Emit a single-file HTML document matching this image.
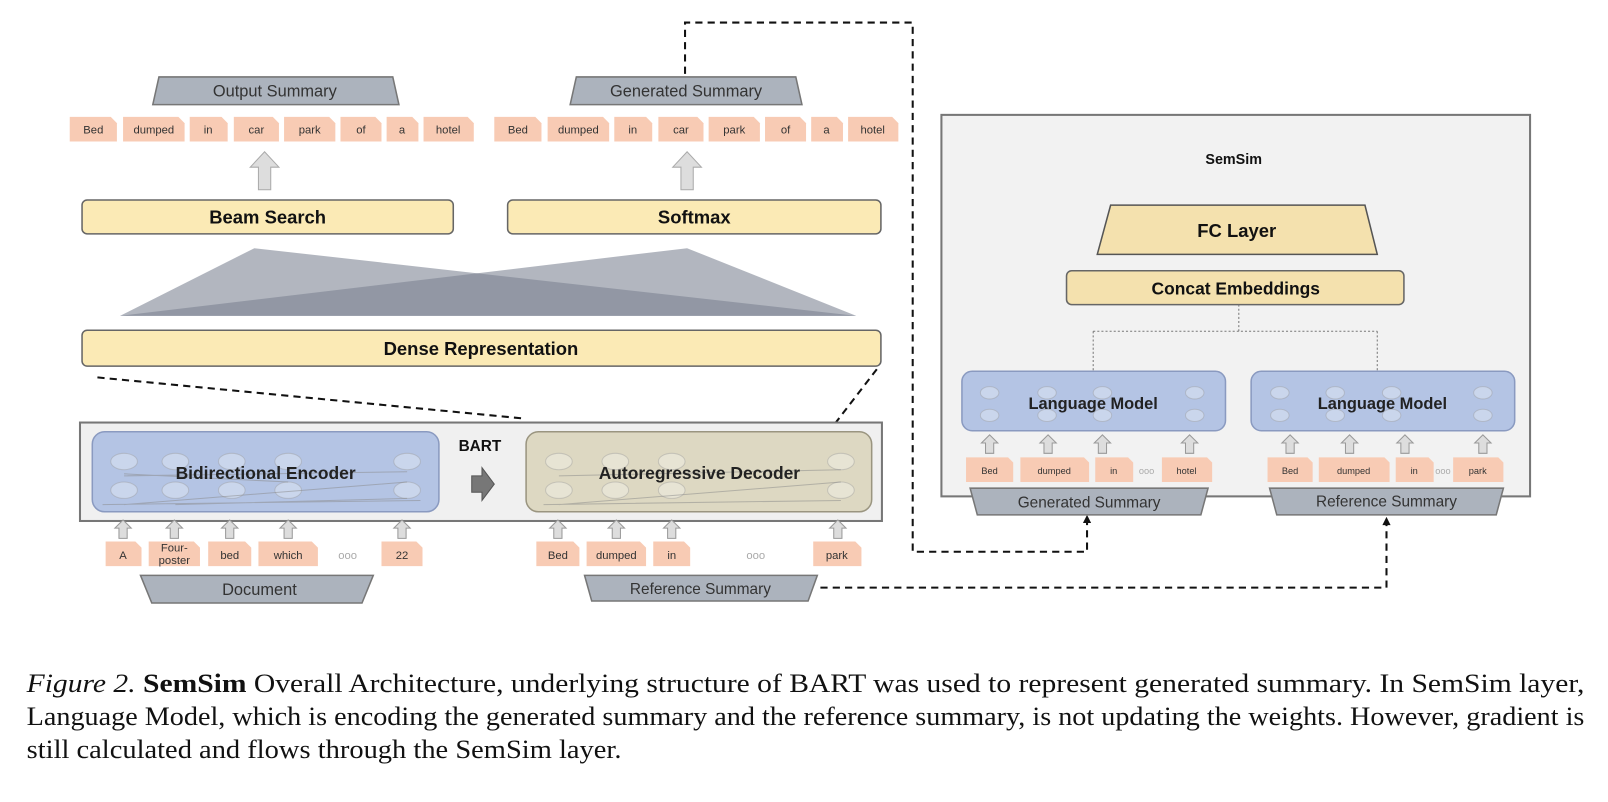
<!DOCTYPE html>
<html><head><meta charset="utf-8"><style>
html,body{margin:0;padding:0;background:#fff;}
svg{display:block;}
.t{font-family:"Liberation Sans",sans-serif;}
</style></head><body>
<svg width="1608" height="802" viewBox="0 0 1568 782" xmlns="http://www.w3.org/2000/svg">
<defs>
<g id="uparr"><path d="M-4,0 L-4,-10 L-8,-10 L0,-18 L8,-10 L4,-10 L4,0 Z" fill="#ddd" stroke="#999" stroke-width="1"/></g>
</defs>

<g fill="none" stroke="#111" stroke-width="2" stroke-dasharray="7,5">
<path d="M668,72 L668,22 L890,22 L890,538 L1060,538 L1060,508"/>
<path d="M800,573 L1352,573 L1352,510"/>
<path d="M95,368 L510,408"/>
<path d="M855,360 L815,412"/>
</g>
<path d="M1056,510 L1060,502 L1064,510 Z" fill="#111"/>
<path d="M1348,512 L1352,504 L1356,512 Z" fill="#111"/>

<path d="M155,75 L383,75 L389,102 L149,102 Z" fill="#acb3bd" stroke="#777" stroke-width="1.5"/>
<text x="268" y="94" class="t" font-size="16" text-anchor="middle" fill="#333">Output Summary</text>
<path d="M562,75 L776,75 L782,102 L556,102 Z" fill="#acb3bd" stroke="#777" stroke-width="1.5"/>
<text x="669" y="94" class="t" font-size="16" text-anchor="middle" fill="#333">Generated Summary</text>

<g fill="#f8cbb4">
<g id="toks">
<path d="M68,114 L108,114 L114,120 L114,138 L68,138 Z"/>
<path d="M120,114 L174,114 L180,120 L180,138 L120,138 Z"/>
<path d="M185,114 L216,114 L222,120 L222,138 L185,138 Z"/>
<path d="M228,114 L266,114 L272,120 L272,138 L228,138 Z"/>
<path d="M277,114 L321,114 L327,120 L327,138 L277,138 Z"/>
<path d="M332,114 L366,114 L372,120 L372,138 L332,138 Z"/>
<path d="M377,114 L402,114 L408,120 L408,138 L377,138 Z"/>
<path d="M413,114 L456,114 L462,120 L462,138 L413,138 Z"/>
</g>
<use href="#toks" transform="translate(414,0)"/>
</g>
<g class="t" font-size="11" fill="#333" text-anchor="middle">
<text x="91" y="130">Bed</text><text x="150" y="130">dumped</text><text x="203" y="130">in</text><text x="250" y="130">car</text><text x="302" y="130">park</text><text x="352" y="130">of</text><text x="392" y="130">a</text><text x="437" y="130">hotel</text>
<text x="505" y="130">Bed</text><text x="564" y="130">dumped</text><text x="617" y="130">in</text><text x="664" y="130">car</text><text x="716" y="130">park</text><text x="766" y="130">of</text><text x="806" y="130">a</text><text x="851" y="130">hotel</text>
</g>
<path d="M252,185 L252,163 L244,163 L258,148 L272,163 L264,163 L264,185 Z" fill="#ddd" stroke="#aaa"/>
<path d="M664,185 L664,163 L656,163 L670,148 L684,163 L676,163 L676,185 Z" fill="#ddd" stroke="#aaa"/>

<rect x="80" y="195" width="362" height="33" rx="5" fill="#fbeab5" stroke="#666" stroke-width="1.5"/>
<text x="261" y="218" class="t" font-size="18" font-weight="bold" text-anchor="middle" fill="#111">Beam Search</text>
<rect x="495" y="195" width="364" height="33" rx="5" fill="#fbeab5" stroke="#666" stroke-width="1.5"/>
<text x="677" y="218" class="t" font-size="18" font-weight="bold" text-anchor="middle" fill="#111">Softmax</text>

<path d="M117,308 L248,242 L835,308 Z" fill="#7a8290" fill-opacity="0.58"/>
<path d="M117,308 L670,242 L835,308 Z" fill="#7a8290" fill-opacity="0.58"/>

<rect x="80" y="322" width="779" height="35" rx="5" fill="#fbeab5" stroke="#666" stroke-width="1.5"/>
<text x="469" y="346" class="t" font-size="18" font-weight="bold" text-anchor="middle" fill="#111">Dense Representation</text>

<rect x="78" y="412" width="782" height="96" fill="#f0f0f0" stroke="#777" stroke-width="2"/>
<rect x="90" y="421" width="338" height="78" rx="12" fill="#b4c4e4" stroke="#8a9ac0" stroke-width="1.5"/>
<rect x="513" y="421" width="337" height="78" rx="12" fill="#ddd8c2" stroke="#9a9580" stroke-width="1.5"/>
<g fill="#fff" fill-opacity="0.3" stroke="#999" stroke-opacity="0.4">
<ellipse cx="121" cy="450" rx="13" ry="8"/><ellipse cx="121" cy="478" rx="13" ry="8"/>
<ellipse cx="171" cy="450" rx="13" ry="8"/><ellipse cx="171" cy="478" rx="13" ry="8"/>
<ellipse cx="226" cy="450" rx="13" ry="8"/><ellipse cx="226" cy="478" rx="13" ry="8"/>
<ellipse cx="281" cy="450" rx="13" ry="8"/><ellipse cx="281" cy="478" rx="13" ry="8"/>
<ellipse cx="397" cy="450" rx="13" ry="8"/><ellipse cx="397" cy="478" rx="13" ry="8"/>
<ellipse cx="545" cy="450" rx="13" ry="8"/><ellipse cx="545" cy="478" rx="13" ry="8"/>
<ellipse cx="600" cy="450" rx="13" ry="8"/><ellipse cx="600" cy="478" rx="13" ry="8"/>
<ellipse cx="655" cy="450" rx="13" ry="8"/><ellipse cx="655" cy="478" rx="13" ry="8"/>
<ellipse cx="820" cy="450" rx="13" ry="8"/><ellipse cx="820" cy="478" rx="13" ry="8"/>
</g>
<g stroke="#888" stroke-opacity="0.5" stroke-width="1">
<path d="M100,492 L410,488 M121,492 L397,470 M171,492 L397,486 M121,464 L397,460 M121,462 L281,470"/>
<path d="M530,492 L820,488 M545,492 L820,470 M545,464 L820,458"/>
</g>
<text x="259" y="467" class="t" font-size="17" font-weight="bold" text-anchor="middle" fill="#222">Bidirectional Encoder</text>
<text x="682" y="467" class="t" font-size="17" font-weight="bold" text-anchor="middle" fill="#222">Autoregressive Decoder</text>
<text x="468" y="440" class="t" font-size="15" font-weight="bold" text-anchor="middle" fill="#111">BART</text>
<path d="M460,464 L470,464 L470,456 L482,472 L470,488 L470,480 L460,480 Z" fill="#777" stroke="#555"/>

<use href="#uparr" x="120" y="525"/><use href="#uparr" x="170" y="525"/><use href="#uparr" x="224" y="525"/><use href="#uparr" x="281" y="525"/><use href="#uparr" x="392" y="525"/>
<use href="#uparr" x="544" y="525"/><use href="#uparr" x="601" y="525"/><use href="#uparr" x="655" y="525"/><use href="#uparr" x="817" y="525"/>
<g fill="#f8cbb4">
<path d="M103,528 L132,528 L138,534 L138,552 L103,552 Z"/>
<path d="M145,528 L189,528 L195,534 L195,552 L145,552 Z"/>
<path d="M203,528 L239,528 L245,534 L245,552 L203,552 Z"/>
<path d="M252,528 L304,528 L310,534 L310,552 L252,552 Z"/>
<path d="M372,528 L406,528 L412,534 L412,552 L372,552 Z"/>
<path d="M523,528 L559,528 L565,534 L565,552 L523,552 Z"/>
<path d="M572,528 L624,528 L630,534 L630,552 L572,552 Z"/>
<path d="M637,528 L667,528 L673,534 L673,552 L637,552 Z"/>
<path d="M793,528 L834,528 L840,534 L840,552 L793,552 Z"/>
</g>
<g class="t" font-size="11" fill="#333" text-anchor="middle">
<text x="120" y="545">A</text><text x="170" y="538">Four-</text><text x="170" y="550">poster</text><text x="224" y="545">bed</text><text x="281" y="545">which</text><text x="392" y="545">22</text>
<text x="544" y="545">Bed</text><text x="601" y="545">dumped</text><text x="655" y="545">in</text><text x="816" y="545">park</text>
<text x="339" y="545" fill="#aaa">ooo</text><text x="737" y="545" fill="#aaa">ooo</text>
</g>
<path d="M137,561 L364,561 L353,588 L148,588 Z" fill="#acb3bd" stroke="#777" stroke-width="1.5"/>
<text x="253" y="580" class="t" font-size="16" text-anchor="middle" fill="#333">Document</text>
<path d="M570,561 L797,561 L788,586 L577,586 Z" fill="#acb3bd" stroke="#777" stroke-width="1.5"/>
<text x="683" y="579" class="t" font-size="15" text-anchor="middle" fill="#333">Reference Summary</text>

<rect x="918" y="112" width="574" height="372" fill="#f2f2f2" stroke="#777" stroke-width="2"/>
<text x="1203" y="160" class="t" font-size="14" font-weight="bold" text-anchor="middle" fill="#111">SemSim</text>
<path d="M1083,200 L1331,200 L1343,248 L1070,248 Z" fill="#f4e1ae" stroke="#555" stroke-width="1.5"/>
<text x="1206" y="231" class="t" font-size="18" font-weight="bold" text-anchor="middle" fill="#111">FC Layer</text>
<rect x="1040" y="264" width="329" height="33" rx="5" fill="#f4e1ae" stroke="#666" stroke-width="1.5"/>
<text x="1205" y="287" class="t" font-size="17" font-weight="bold" text-anchor="middle" fill="#111">Concat Embeddings</text>
<path d="M1208,297 L1208,323 M1066,323 L1343,323 M1066,323 L1066,362 M1343,323 L1343,362" fill="none" stroke="#777" stroke-dasharray="2,2"/>
<rect x="938" y="362" width="257" height="58" rx="10" fill="#b4c4e4" stroke="#8a9ac0" stroke-width="1.5"/>
<rect x="1220" y="362" width="257" height="58" rx="10" fill="#b4c4e4" stroke="#8a9ac0" stroke-width="1.5"/>
<g fill="#fff" fill-opacity="0.3" stroke="#999" stroke-opacity="0.4">
<ellipse cx="965" cy="383" rx="9" ry="6"/><ellipse cx="965" cy="405" rx="9" ry="6"/>
<ellipse cx="1021" cy="383" rx="9" ry="6"/><ellipse cx="1021" cy="405" rx="9" ry="6"/>
<ellipse cx="1075" cy="383" rx="9" ry="6"/><ellipse cx="1075" cy="405" rx="9" ry="6"/>
<ellipse cx="1165" cy="383" rx="9" ry="6"/><ellipse cx="1165" cy="405" rx="9" ry="6"/>
<ellipse cx="1248" cy="383" rx="9" ry="6"/><ellipse cx="1248" cy="405" rx="9" ry="6"/>
<ellipse cx="1302" cy="383" rx="9" ry="6"/><ellipse cx="1302" cy="405" rx="9" ry="6"/>
<ellipse cx="1357" cy="383" rx="9" ry="6"/><ellipse cx="1357" cy="405" rx="9" ry="6"/>
<ellipse cx="1446" cy="383" rx="9" ry="6"/><ellipse cx="1446" cy="405" rx="9" ry="6"/>
</g>
<text x="1066" y="399" class="t" font-size="16" font-weight="bold" text-anchor="middle" fill="#222">Language Model</text>
<text x="1348" y="399" class="t" font-size="16" font-weight="bold" text-anchor="middle" fill="#222">Language Model</text>
<use href="#uparr" x="965" y="442"/><use href="#uparr" x="1022" y="442"/><use href="#uparr" x="1075" y="442"/><use href="#uparr" x="1160" y="442"/>
<use href="#uparr" x="1258" y="442"/><use href="#uparr" x="1316" y="442"/><use href="#uparr" x="1370" y="442"/><use href="#uparr" x="1446" y="442"/>
<g fill="#f8cbb4">
<path d="M942,446 L983,446 L988,451 L988,470 L942,470 Z"/>
<path d="M995,446 L1057,446 L1062,451 L1062,470 L995,470 Z"/>
<path d="M1068,446 L1100,446 L1105,451 L1105,470 L1068,470 Z"/>
<path d="M1133,446 L1177,446 L1182,451 L1182,470 L1133,470 Z"/>
<path d="M1236,446 L1275,446 L1280,451 L1280,470 L1236,470 Z"/>
<path d="M1286,446 L1350,446 L1355,451 L1355,470 L1286,470 Z"/>
<path d="M1361,446 L1393,446 L1398,451 L1398,470 L1361,470 Z"/>
<path d="M1417,446 L1461,446 L1466,451 L1466,470 L1417,470 Z"/>
</g>
<g class="t" font-size="9" fill="#333" text-anchor="middle">
<text x="965" y="462">Bed</text><text x="1028" y="462">dumped</text><text x="1086" y="462">in</text><text x="1157" y="462">hotel</text><text x="1118" y="462" fill="#aaa">ooo</text>
<text x="1258" y="462">Bed</text><text x="1320" y="462">dumped</text><text x="1379" y="462">in</text><text x="1441" y="462">park</text><text x="1407" y="462" fill="#aaa">ooo</text>
</g>
<path d="M946,476 L1178,476 L1171,502 L953,502 Z" fill="#acb3bd" stroke="#777" stroke-width="1.5"/>
<text x="1062" y="495" class="t" font-size="15" text-anchor="middle" fill="#333">Generated Summary</text>
<path d="M1238,476 L1466,476 L1459,502 L1245,502 Z" fill="#acb3bd" stroke="#777" stroke-width="1.5"/>
<text x="1352" y="494" class="t" font-size="15" text-anchor="middle" fill="#333">Reference Summary</text>

<g font-family="'Liberation Serif',serif" font-size="26" fill="#111">
<text x="26" y="675" textLength="1519" lengthAdjust="spacingAndGlyphs"><tspan font-style="italic">Figure 2.</tspan> <tspan font-weight="bold">SemSim</tspan> Overall Architecture, underlying structure of BART was used to represent generated summary.  In SemSim layer,</text>
<text x="26" y="707" textLength="1519" lengthAdjust="spacingAndGlyphs">Language Model, which is encoding the generated summary and the reference summary, is not updating the weights. However, gradient is</text>
<text x="26" y="739" textLength="580" lengthAdjust="spacingAndGlyphs">still calculated and flows through the SemSim layer.</text>
</g>
</svg>
</body></html>
